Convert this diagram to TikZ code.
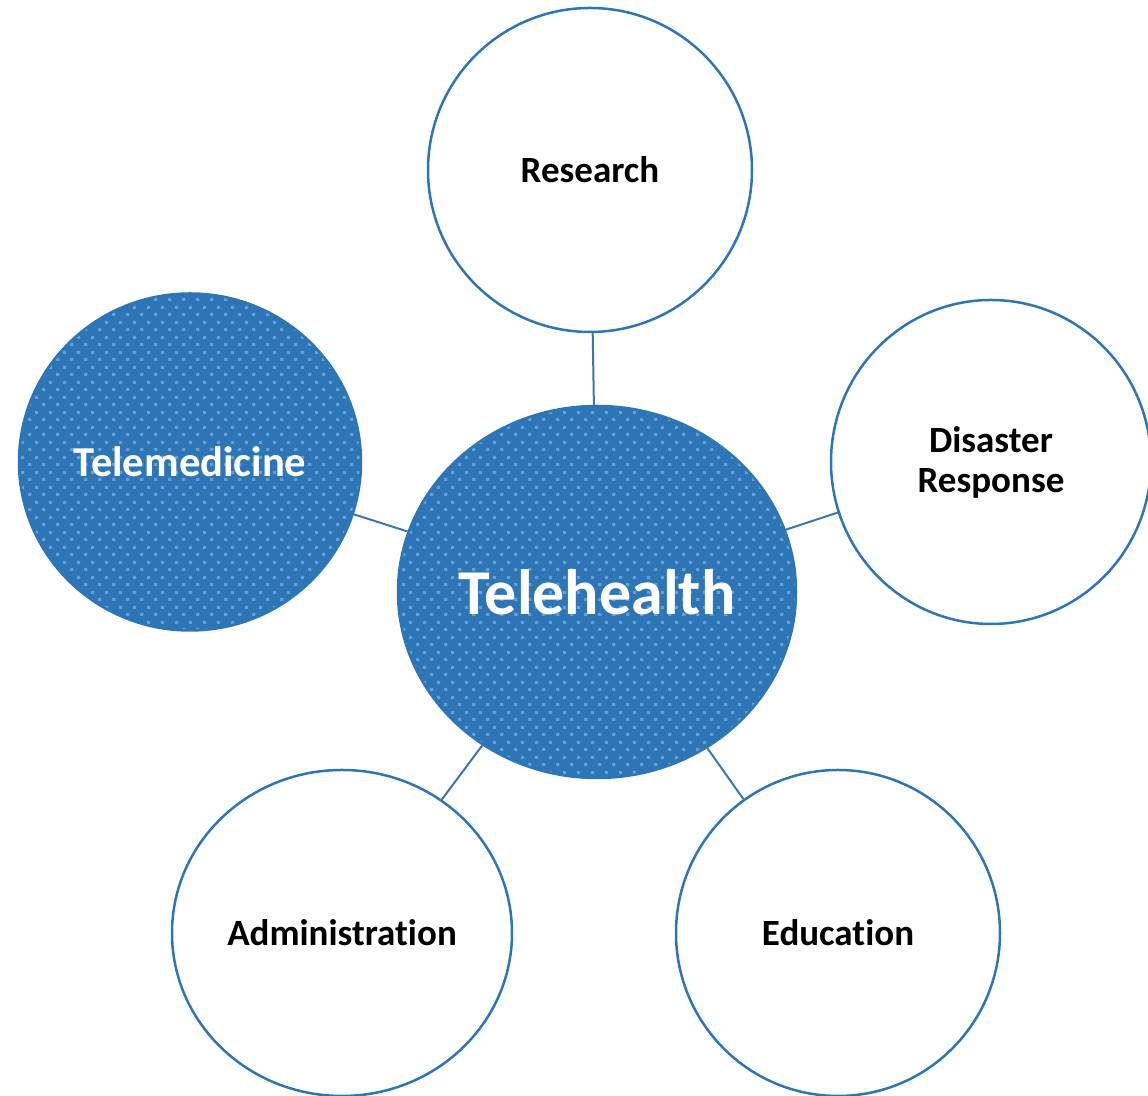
\documentclass[tikz,border=0pt]{standalone}
\usepackage{fontspec}
\setmainfont{Carlito}[Ligatures=CommonOff]
\usepackage{xcolor}
\usepackage{tikz}
\usetikzlibrary{shapes.geometric,patterns.meta}

\definecolor{hubblue}{HTML}{2E75B6}
\definecolor{dotblue}{HTML}{62A0D9}

% staggered square dots
\tikzdeclarepattern{
  name=stagdots,
  type=uncolored,
  bounding box={(0pt,0pt) and (7.2pt,7.5pt)},
  tile size={(7.2pt,7.5pt)},
  code={
    \fill (0pt,0pt) rectangle (1.7pt,1.7pt);
    \fill (3.6pt,3.75pt) rectangle (5.3pt,5.45pt);
  }
}

\begin{document}
\begin{tikzpicture}[x=0.5pt, y=0.5pt,
    topic/.style={ellipse, draw=hubblue, line width=1.25pt, fill=white, inner sep=0pt,
        align=center, font=\fontsize{18.5}{20}\selectfont\bfseries, text=black},
    filled/.style={topic, preaction={fill=hubblue},
        pattern=stagdots, pattern color=dotblue, text=white},
    link/.style={draw=hubblue!85!gray, line width=1pt}]
    \useasboundingbox (0,0) rectangle (1148,1096);
    \clip (0,0) rectangle (1148,1096);

    % center
    \node[filled, minimum width=199pt, minimum height=186pt,
        font=\fontsize{32}{35}\selectfont\bfseries] (hub) at (597,504) {Telehealth};

    % around it
    \node[topic, minimum width=162pt, minimum height=162pt] (research) at (590,926) {Research};
    \node[filled, minimum width=171pt, minimum height=168.5pt,
        font=\fontsize{21.3}{23}\selectfont\bfseries] (telemed) at (190,634) {Telemedicine};
    \node[topic, minimum width=160pt, minimum height=162pt] (disaster) at (991,634) {Disaster\\Response};
    \node[topic, minimum width=170pt, minimum height=163pt] (admin) at (342,163) {Administration};
    \node[topic, minimum width=162pt, minimum height=163pt] (educ) at (838,163) {Education};

    % links
    \foreach \n in {research,telemed,disaster,admin,educ}
        \draw[link] (\n) -- (hub);
\end{tikzpicture}
\end{document}
